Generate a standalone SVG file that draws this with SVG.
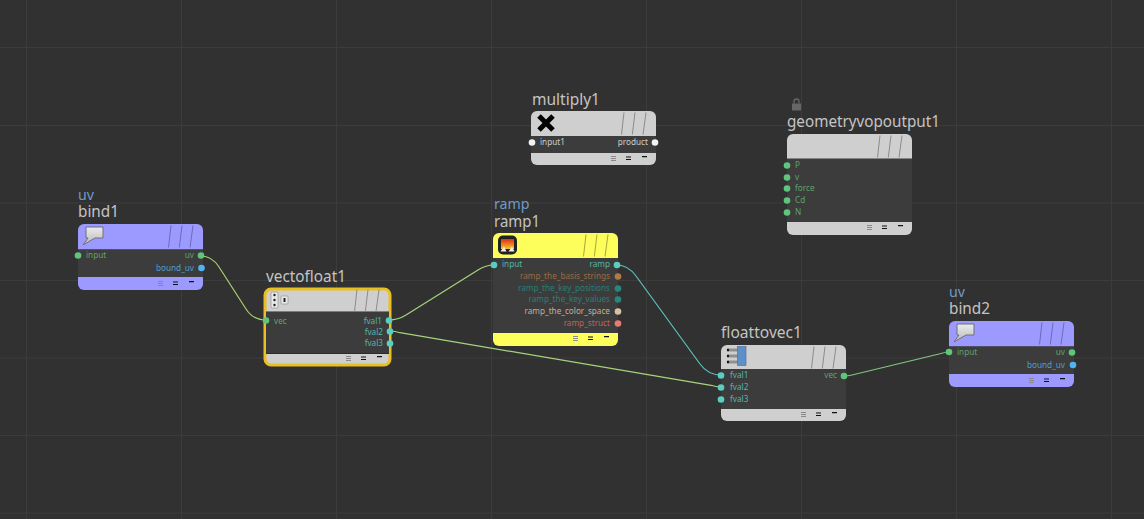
<svg xmlns="http://www.w3.org/2000/svg" width="1144" height="519" viewBox="0 0 1144 519">
<style>
text{font-family:"Noto Sans","Open Sans","Liberation Sans",sans-serif}
.grid{stroke:#3c3c3c;stroke-width:1;fill:none}
.title{font-size:16px;fill:#c4c4c4}
.ctx{font-size:14.200px;fill:#6f9ac8}
.p{font-size:8.200px}
.e{text-anchor:end}
.g{fill:#5fa26c}.t{fill:#55b5aa}.b{fill:#4f9fd0}.w{fill:#cfcfcf}.br{fill:#9a6c40}.dt{fill:#2a7f77}.sa{fill:#c2b09a}.rd{fill:#bd645e}
circle{stroke:none}
.dg{fill:#5fc47c}.dc{fill:#58cfc0}.db{fill:#4db5f5}.dw{fill:#f2f2f2}.dbr{fill:#b07a45}.ddt{fill:#27877d}.dsa{fill:#d8c0a5}.drd{fill:#e87a70}
.wire{fill:none;stroke-width:1.200}
.body{fill:#3c3c3c}
.sep{fill:#2b2b2b}
.stripes{fill:none;stroke:#8c8c8c;stroke-width:1}
.stripesP{fill:none;stroke:#6e6ab8;stroke-width:1}
.stripesY{fill:none;stroke:#a8a83c;stroke-width:1}
.ctl1{fill:#8a8a8a}.ctl2{fill:#111}
</style>
<defs>
<g id="st"><path d="M-34.500 23.500L-32 1.500M-23.700 23.500L-21 1.500M-13 23.500L-10 1.500"/></g>
<g id="ctl"><path class="ctl1" d="M-40 0h5v1h-5zM-40 2h5v1h-5zM-40 4h5v1h-5z"/><path class="ctl2" d="M-25 0.500h5v1h-5zM-25 3h5v1h-5zM-9 0h5v1.300h-5z"/></g>
<linearGradient id="bub" x1="0" y1="0" x2="0" y2="1"><stop offset="0" stop-color="#ececec"/><stop offset="1" stop-color="#b8b8b8"/></linearGradient>
<linearGradient id="fire" x1="0" y1="0" x2="0" y2="1"><stop offset="0" stop-color="#d8301c"/><stop offset=".6" stop-color="#f08a1c"/><stop offset="1" stop-color="#f6c23c"/></linearGradient>
<path id="bubble" d="M8 3H25V14H17L5 21L10 14H8Z" fill="url(#bub)" stroke="#6f6f80" stroke-width="1"/>
</defs>
<rect width="1144" height="519" fill="#313131"/>
<g id="grid" class="grid">
<path d="M0 47.500H1144M0 125.500H1144M0 203H1144M0 280.500H1144M0 358H1144M0 435.500H1144M0 513H1144"/>
<path d="M26.500 0V519M181.500 0V519M336.500 0V519M491.500 0V519M646.500 0V519M801.500 0V519M956.500 0V519M1111.500 0V519"/>
</g>
<g id="connectors" class="wire">
<path d="M201 256Q212 256 219 267L246 309Q253 320 266 320" stroke="#a8d06c"/>
<path d="M389 320Q398 320 406 315L478 270Q486 265 494 265" stroke="#a5d47c"/>
<path d="M390 331Q395 331 400 332.700L711 385.300Q716 387 721 387" stroke="#a5d47c"/>
<path d="M617 265Q628 265 636 276L700 364Q708 375 721 375" stroke="#5cc2b8"/>
<path d="M844 376Q848 376 852 375L941 353.500Q945 352 949 352" stroke="#7fc77f"/>
</g>
<g id="bind1" transform="translate(78 224)">
<text class="ctx" x="0" y="-24">uv</text><text class="title" x="0" y="-7" textLength="41" lengthAdjust="spacingAndGlyphs">bind1</text>
<rect width="125" height="66" rx="6" fill="#9c9aff"/>
<rect class="sep" y="25" width="125" height="1" opacity=".5"/><rect class="body" y="25.500" width="125" height="27.500"/>
<use href="#st" x="125" class="stripesP"/><use href="#bubble"/>
<use href="#ctl" x="120" y="57"/>
<text class="p g" x="8" y="34">input</text><text class="p g e" x="116" y="34">uv</text><text class="p b e" x="116" y="47">bound_uv</text>
<circle class="dg" cy="31.500" r="3.300"/><circle class="dg" cx="123" cy="31.500" r="3.300"/><circle class="db" cx="123.500" cy="44" r="3.300"/>
</g>
<g id="vectofloat1" transform="translate(266 290)">
<text class="title" x="0" y="-8" textLength="80" lengthAdjust="spacingAndGlyphs">vectofloat1</text>
<rect x="-1" y="-1" width="125" height="76" rx="6" fill="#cfcfcf" stroke="#eac020" stroke-width="3"/>
<rect class="sep" y="21.500" width="123" height="1"/><rect class="body" y="22" width="123" height="41"/><rect class="sep" y="63" width="123" height="1"/>
<use href="#st" x="123" class="stripes" transform="translate(0 -2)"/>
<g fill="#222"><rect x="5" y="2" width="7" height="16" rx="1" fill="#e8e8e8" stroke="#888" stroke-width=".6"/><circle cx="8.500" cy="5" r="1.200"/><circle cx="8.500" cy="10" r="1.200"/><circle cx="8.500" cy="15" r="1.200"/><rect x="15" y="6" width="7" height="8" rx="1" fill="#e8e8e8" stroke="#888" stroke-width=".6"/><rect x="17.500" y="8" width="2" height="4"/></g>
<use href="#ctl" x="120" y="66"/>
<text class="p g" x="8" y="33.500">vec</text><text class="p t e" x="116" y="33.500">fval1</text><text class="p t e" x="117" y="44.500">fval2</text><text class="p t e" x="117" y="56">fval3</text>
<circle class="dg" cy="30.500" r="3.300"/><circle class="dc" cx="123" cy="30.500" r="3.300"/><circle class="dc" cx="124" cy="41.500" r="3.300"/><circle class="dc" cx="124" cy="53.500" r="3.300"/>
</g>
<g id="ramp1" transform="translate(493 233)">
<text class="ctx" x="1" y="-24">ramp</text><text class="title" x="1" y="-6" textLength="46" lengthAdjust="spacingAndGlyphs">ramp1</text>
<rect width="125" height="113" rx="6" fill="#fdfd5c"/>
<rect class="body" y="25" width="125" height="75"/>
<use href="#st" x="125" class="stripesY"/>
<rect x="5" y="2.500" width="19" height="19" rx="5" fill="#222"/><rect x="8" y="6" width="13" height="10" fill="url(#fire)"/><path d="M7.500 18.500L11 13.500L13.500 18.500ZM15.500 18.500L19 13.500L21.500 18.500Z" fill="#eee"/>
<use href="#ctl" x="120" y="103"/>
<text class="p t" x="9" y="34">input</text><text class="p t e" x="117" y="34">ramp</text>
<text class="p br e" x="117" y="46">ramp_the_basis_strings</text><text class="p dt e" x="117" y="58">ramp_the_key_positions</text><text class="p dt e" x="117" y="69">ramp_the_key_values</text><text class="p sa e" x="117" y="81">ramp_the_color_space</text><text class="p rd e" x="117" y="93">ramp_struct</text>
<circle class="dc" cx="1" cy="32" r="3.300"/><circle class="dc" cx="124" cy="32" r="3.300"/><circle class="dbr" cx="125" cy="43.500" r="3.300"/><circle class="ddt" cx="125" cy="55.500" r="3.300"/><circle class="ddt" cx="125" cy="66.500" r="3.300"/><circle class="dsa" cx="125" cy="78.500" r="3.300"/><circle class="drd" cx="125" cy="90.500" r="3.300"/>
</g>
<g id="multiply1" transform="translate(531 111)">
<text class="title" x="1" y="-6" textLength="68" lengthAdjust="spacingAndGlyphs">multiply1</text>
<rect width="125" height="54" rx="6" fill="#cfcfcf"/>
<rect class="body" y="25" width="125" height="17"/>
<use href="#st" x="125" class="stripes"/>
<path d="M8 5L22 19M22 5L8 19" stroke="#000" stroke-width="5" fill="none"/>
<use href="#ctl" x="120" y="45"/>
<text class="p w" x="9" y="34">input1</text><text class="p w e" x="117" y="34">product</text>
<circle class="dw" cx="1" cy="31.500" r="3.300"/><circle class="dw" cx="124" cy="31.500" r="3.300"/>
</g>
<g id="geometryvopoutput1" transform="translate(787 134)">
<path d="M5 -30.500h9v7h-9z" fill="#666"/><path d="M7 -30.500v-2a2.500 2.500 0 0 1 5 0v2" fill="none" stroke="#666" stroke-width="1.300"/>
<text class="title" x="0" y="-7" textLength="153" lengthAdjust="spacingAndGlyphs">geometryvopoutput1</text>
<rect width="125" height="101" rx="6" fill="#cfcfcf"/>
<rect class="body" y="24.500" width="125" height="63.500"/>
<use href="#st" x="125" class="stripes"/>
<use href="#ctl" x="120" y="91"/>
<text class="p g" x="8" y="34">P</text><text class="p g" x="8" y="46">v</text><text class="p g" x="8" y="57">force</text><text class="p g" x="8" y="69">Cd</text><text class="p g" x="8" y="81">N</text>
<circle class="dg" cy="31.500" r="3.300"/><circle class="dg" cy="43.500" r="3.300"/><circle class="dg" cy="54.500" r="3.300"/><circle class="dg" cy="66.500" r="3.300"/><circle class="dg" cy="78.500" r="3.300"/>
</g>
<g id="floattovec1" transform="translate(721 345)">
<text class="title" x="0" y="-7" textLength="81" lengthAdjust="spacingAndGlyphs">floattovec1</text>
<rect width="125" height="76" rx="6" fill="#cfcfcf"/>
<rect class="body" y="24" width="125" height="40"/>
<use href="#st" x="125" class="stripes"/>
<rect x="6" y="3.500" width="11" height="3" fill="#8f8f8f"/><rect x="6" y="9.500" width="11" height="3" fill="#8f8f8f"/><rect x="6" y="15.500" width="11" height="3" fill="#8f8f8f"/>
<circle cx="7" cy="5" r="1.200" fill="#111"/><circle cx="7" cy="11" r="1.200" fill="#111"/><circle cx="7" cy="17" r="1.200" fill="#111"/>
<rect x="16.500" y="1.500" width="8.500" height="19" fill="#5d8fc9" stroke="#4a6a90" stroke-width=".6"/>
<use href="#ctl" x="120" y="67"/>
<text class="p t" x="9" y="33">fval1</text><text class="p t" x="9" y="45">fval2</text><text class="p t" x="9" y="57">fval3</text><text class="p g e" x="116" y="33">vec</text>
<circle class="dc" cy="30.500" r="3.300"/><circle class="dc" cy="42.500" r="3.300"/><circle class="dc" cy="54.500" r="3.300"/><circle class="dg" cx="123" cy="31" r="3.300"/>
</g>
<g id="bind2" transform="translate(949 321)">
<text class="ctx" x="0" y="-24">uv</text><text class="title" x="0" y="-7" textLength="41" lengthAdjust="spacingAndGlyphs">bind2</text>
<rect width="125" height="66" rx="6" fill="#9c9aff"/>
<rect class="sep" y="25" width="125" height="1" opacity=".5"/><rect class="body" y="25.500" width="125" height="27.500"/>
<use href="#st" x="125" class="stripesP"/><use href="#bubble"/>
<use href="#ctl" x="120" y="57"/>
<text class="p g" x="8" y="34">input</text><text class="p g e" x="116" y="34">uv</text><text class="p b e" x="116" y="47">bound_uv</text>
<circle class="dg" cy="31" r="3.300"/><circle class="dg" cx="123" cy="31.500" r="3.300"/><circle class="db" cx="124" cy="44" r="3.300"/>
</g>
</svg>
